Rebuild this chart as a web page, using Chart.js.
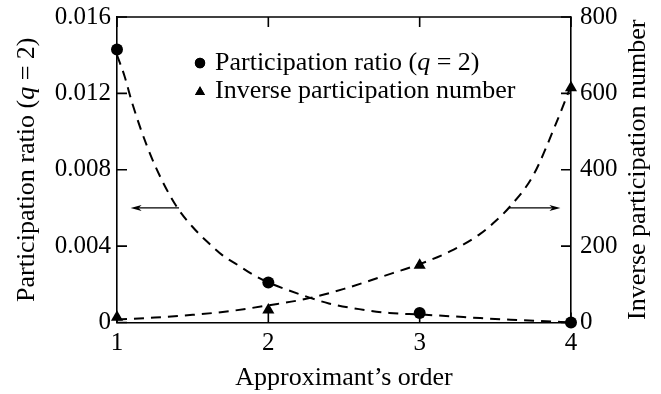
<!DOCTYPE html>
<html>
<head>
<meta charset="utf-8">
<script src="https://cdn.jsdelivr.net/npm/chart.js@4.4.1/dist/chart.umd.min.js"></script>
<style>
  html, body { margin: 0; padding: 0; background: #ffffff; }
  #wrap { width: 661px; height: 394px; }
</style>
</head>
<body>
<div id="wrap"><canvas id="c" width="661" height="394"></canvas></div>
<script>
// Measured points
const orders = [1, 2, 3, 4];
const participationRatio = [0.0143, 0.0021, 0.0005, 0.0];
const inverseParticipation = [14, 33, 150, 615];

// Fitted (dashed) curves, sampled along the order axis
const ratioFitOrders = [1.0, 1.05, 1.1, 1.2, 1.3, 1.4, 1.5, 1.6, 1.7, 1.8, 1.9, 2.0, 2.2, 2.4, 2.6, 2.8, 3.0, 3.2, 3.4, 3.6, 3.8, 4.0];
const ratioFit = [0.0140, 0.0129, 0.0115, 0.0092, 0.0074, 0.0060, 0.0050, 0.0042, 0.0035, 0.0030, 0.0025, 0.0021, 0.0015, 0.0010, 0.0007, 0.0005, 0.00042, 0.00033, 0.00023, 0.00015, 0.00008, 0.0];
const inverseFitOrders = [1.0, 1.25, 1.5, 1.75, 2.0, 2.25, 2.5, 2.75, 3.0, 3.2, 3.4, 3.5, 3.6, 3.75, 3.9, 4.0];
const inverseFit = [8, 13, 20, 30, 45, 62, 88, 120, 153, 186, 232, 265, 305, 385, 520, 620];

// Axis ticks
const orderTicks = [1, 2, 3, 4];
const ratioTicks = [0, 0.004, 0.008, 0.012, 0.016];
const inverseTicks = [0, 200, 400, 600, 800];

const FONT = "'Liberation Serif', 'Times New Roman', serif";
const INK = '#000000';
const NORMAL = '26px ' + FONT;
const ITALIC = 'italic 26px ' + FONT;
const RATIO_LABEL = [['Participation ratio (', NORMAL], ['q', ITALIC], [' = 2)', NORMAL]];
const INVERSE_LABEL = [['Inverse participation number', NORMAL]];

const toXY = (xs, ys) => xs.map((x, i) => ({ x: x, y: ys[i] }));
const fixedTicks = (values) => (scale) => { scale.ticks = values.map(v => ({ value: v })); };

// Writes a run of differently styled pieces starting at (x, y); returns the width
function drawRuns(ctx, runs, x, y, measureOnly) {
  let w = 0;
  runs.forEach(([s, f]) => {
    ctx.font = f;
    if (!measureOnly) ctx.fillText(s, x + w, y);
    w += ctx.measureText(s).width;
  });
  return w;
}

// Vertical title centred on cy, reading bottom to top, baseline at bx
function drawVerticalTitle(ctx, runs, bx, cy) {
  ctx.save();
  ctx.translate(bx, cy);
  ctx.rotate(-Math.PI / 2);
  ctx.textAlign = 'left';
  ctx.textBaseline = 'alphabetic';
  const w = drawRuns(ctx, runs, 0, 0, true);
  drawRuns(ctx, runs, -w / 2, 0, false);
  ctx.restore();
}

// Box top edge, inward tick marks, arrows, legend and the y-axis titles
const decorations = {
  id: 'decorations',
  afterDraw(chart) {
    const { ctx, chartArea: a, scales } = chart;
    const xs = scales.x, yl = scales.y, yr = scales.y2;
    const tickLen = 10;
    ctx.save();
    ctx.strokeStyle = INK;
    ctx.fillStyle = INK;
    ctx.lineWidth = 1.6;

    // top edge of the frame
    ctx.beginPath();
    ctx.moveTo(a.left, a.top);
    ctx.lineTo(a.right, a.top);
    ctx.stroke();

    // inward ticks
    ctx.beginPath();
    xs.ticks.forEach(t => {
      const px = xs.getPixelForValue(t.value);
      ctx.moveTo(px, a.bottom); ctx.lineTo(px, a.bottom - tickLen);
      ctx.moveTo(px, a.top); ctx.lineTo(px, a.top + tickLen);
    });
    yl.ticks.forEach(t => {
      const py = yl.getPixelForValue(t.value);
      ctx.moveTo(a.left, py); ctx.lineTo(a.left + tickLen, py);
    });
    yr.ticks.forEach(t => {
      const py = yr.getPixelForValue(t.value);
      ctx.moveTo(a.right, py); ctx.lineTo(a.right - tickLen, py);
    });
    ctx.stroke();

    // arrows telling which curve belongs to which axis
    const arrow = (x0, x1, y) => {
      const dir = Math.sign(x1 - x0);
      ctx.lineWidth = 1.3;
      ctx.beginPath();
      ctx.moveTo(x0, y); ctx.lineTo(x1 - dir * 8, y);
      ctx.stroke();
      ctx.beginPath();
      ctx.moveTo(x1, y);
      ctx.lineTo(x1 - dir * 11, y - 3);
      ctx.lineTo(x1 - dir * 8, y);
      ctx.lineTo(x1 - dir * 11, y + 3);
      ctx.closePath();
      ctx.fill();
    };
    const arrowY = yl.getPixelForValue(0.006);
    arrow(xs.getPixelForValue(1.41), xs.getPixelForValue(1.09), arrowY);
    arrow(xs.getPixelForValue(3.59), xs.getPixelForValue(3.93), arrowY);

    // legend
    const lx = a.left + 83;
    const tx = a.left + 98;
    const row1 = a.top + 53;
    const row2 = a.top + 81;
    Chart.helpers.drawPoint(ctx, { pointStyle: 'circle', radius: 5.2, borderWidth: 0 }, lx, row1 - 7);
    ctx.fill();
    Chart.helpers.drawPoint(ctx, { pointStyle: 'triangle', radius: 5.8, borderWidth: 0 }, lx, row2 - 6);
    ctx.fill();
    ctx.textBaseline = 'alphabetic';
    ctx.textAlign = 'left';
    drawRuns(ctx, RATIO_LABEL, tx, row1, false);
    drawRuns(ctx, INVERSE_LABEL, tx, row2, false);

    // y-axis titles
    const midY = (a.top + a.bottom) / 2;
    drawVerticalTitle(ctx, RATIO_LABEL, 34, midY);
    drawVerticalTitle(ctx, INVERSE_LABEL, 645, midY);

    ctx.restore();
  }
};

const pointStyle = {
  showLine: false,
  backgroundColor: INK,
  borderColor: INK,
  borderWidth: 0,
  clip: false
};
const fitStyle = {
  showLine: true,
  borderColor: INK,
  borderWidth: 2,
  borderDash: [10, 7],
  pointRadius: 0,
  cubicInterpolationMode: 'monotone',
  fill: false,
  clip: false
};

new Chart(document.getElementById('c'), {
  type: 'scatter',
  data: {
    datasets: [
      Object.assign({ label: 'Participation ratio (q = 2)', data: toXY(orders, participationRatio), yAxisID: 'y', pointStyle: 'circle', pointRadius: 6 }, pointStyle),
      Object.assign({ label: 'Inverse participation number', data: toXY(orders, inverseParticipation), yAxisID: 'y2', pointStyle: 'triangle', pointRadius: 7 }, pointStyle),
      Object.assign({ label: 'ratio fit', data: toXY(ratioFitOrders, ratioFit), yAxisID: 'y' }, fitStyle),
      Object.assign({ label: 'inverse fit', data: toXY(inverseFitOrders, inverseFit), yAxisID: 'y2' }, fitStyle)
    ]
  },
  options: {
    responsive: false,
    animation: false,
    devicePixelRatio: 1,
    layout: { padding: { top: 17, left: 0, right: 0, bottom: 0 } },
    plugins: { legend: { display: false }, tooltip: { enabled: false } },
    scales: {
      x: {
        type: 'linear', position: 'bottom', min: 1, max: 4,
        afterBuildTicks: fixedTicks(orderTicks),
        afterFit(s) { s.height = 71.5; s.paddingLeft = 0; s.paddingRight = 0; },
        grid: { display: false, drawTicks: false },
        border: { display: true, color: INK, width: 1.6 },
        ticks: { color: INK, font: { family: FONT, size: 25 }, padding: 6, callback: v => String(v) },
        title: { display: true, text: 'Approximant\u2019s order', color: INK, font: { family: FONT, size: 26 }, padding: { top: 0, bottom: 0 } }
      },
      y: {
        type: 'linear', position: 'left', min: 0, max: 0.016,
        afterBuildTicks: fixedTicks(ratioTicks),
        afterFit(s) { s.width = 117; s.paddingTop = 0; s.paddingBottom = 0; },
        grid: { display: false, drawTicks: false },
        border: { display: true, color: INK, width: 1.6 },
        ticks: { color: INK, font: { family: FONT, size: 25 }, padding: 6, callback: v => (v === 0 ? '0' : v.toFixed(3)) }
      },
      y2: {
        type: 'linear', position: 'right', min: 0, max: 800,
        afterBuildTicks: fixedTicks(inverseTicks),
        afterFit(s) { s.width = 90; s.paddingTop = 0; s.paddingBottom = 0; },
        grid: { display: false, drawTicks: false },
        border: { display: true, color: INK, width: 1.6 },
        ticks: { color: INK, font: { family: FONT, size: 25 }, padding: 9, callback: v => String(v) }
      }
    }
  },
  plugins: [decorations]
});
</script>
</body>
</html>
